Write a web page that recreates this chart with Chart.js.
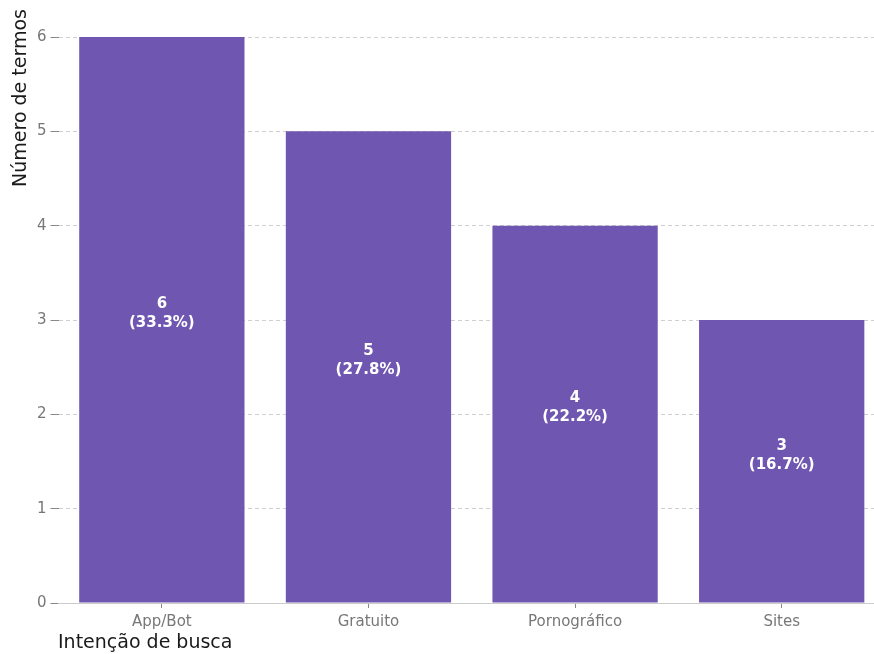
<!DOCTYPE html>
<html>
<head>
<meta charset="utf-8">
<script src="https://cdn.jsdelivr.net/npm/chart.js@4/dist/chart.umd.min.js"></script>
<style>
  html, body { margin: 0; padding: 0; background: #fff; overflow: hidden; }
  #wrap { width: 886px; height: 654px; }
</style>
</head>
<body>
<div id="wrap"><canvas id="chart" width="886" height="654"></canvas></div>
<script>
// values
var categories = ["App/Bot", "Gratuito", "Pornográfico", "Sites"];
var counts = [6, 5, 4, 3];
var percents = ["33.3%", "27.8%", "22.2%", "16.7%"];
var yTicks = [0, 1, 2, 3, 4, 5, 6];

var xTitle = "Intenção de busca";
var yTitle = "Número de termos";

var barColor = "#6f56b0";
var fontName = "'DejaVu Sans'";

// labels inside the bars: count + percent
var barLabels = {
    id: "barLabels",
    afterDatasetsDraw: function(chart){
        var ctx = chart.ctx;
        var meta = chart.getDatasetMeta(0);
        ctx.save();
        ctx.fillStyle = "#fff";
        ctx.font = "bold 15px " + fontName;
        ctx.textAlign = "center";
        ctx.textBaseline = "middle";
        for(var i=0;i<meta.data.length;i++){
            var bar = meta.data[i];
            var mid = (bar.y + bar.base) / 2;
            ctx.fillText(String(counts[i]), bar.x, mid - 15.5);
            ctx.fillText("(" + percents[i] + ")", bar.x, mid + 3.5);
        }
        ctx.restore();
    }
};

// axis titles, placed like the original (y at top-left, x at bottom-left)
var axisTitles = {
    id: "axisTitles",
    afterDraw: function(chart){
        var ctx = chart.ctx;
        ctx.save();
        ctx.fillStyle = "#1a1a1a";
        ctx.font = "19px " + fontName;
        ctx.textBaseline = "middle";
        ctx.textAlign = "left";
        ctx.fillText(xTitle, 58, 643);
        ctx.translate(21, 9);
        ctx.rotate(-Math.PI / 2);
        ctx.textAlign = "right";
        ctx.fillText(yTitle, 0, 0);
        ctx.restore();
    }
};

var ctx = document.getElementById("chart");
var chart = new Chart(ctx, {
    type: "bar",
    data: {
        labels: categories,
        datasets: [{
            data: counts,
            backgroundColor: barColor,
            borderWidth: 0,
            categoryPercentage: 1.0,
            barPercentage: 0.8
        }]
    },
    options: {
        responsive: false,
        animation: false,
        devicePixelRatio: 1,
        layout: { padding: { left: 33, top: 37, right: 1, bottom: 18 } },
        plugins: {
            legend: { display: false },
            tooltip: { enabled: false }
        },
        scales: {
            x: {
                grid: {
                    offset: false,
                    drawOnChartArea: false,
                    drawTicks: true,
                    tickLength: 5,
                    tickColor: "#888"
                },
                border: { display: true, color: "#cccccc", width: 1 },
                ticks: {
                    color: "#777",
                    font: { family: fontName, size: 15 },
                    padding: 5
                }
            },
            y: {
                min: 0,
                max: 6,
                afterBuildTicks: function(axis){
                    axis.ticks = yTicks.map(function(v){ return {value: v}; });
                },
                grid: {
                    color: "#cfcfcf",
                    tickLength: 8,
                    tickColor: "#888",
                    tickBorderDash: []
                },
                border: { display: false, dash: [4, 3] },
                ticks: {
                    color: "#777",
                    font: { family: fontName, size: 15 },
                    padding: 4
                }
            }
        }
    },
    plugins: [barLabels, axisTitles]
});
</script>
</body>
</html>
